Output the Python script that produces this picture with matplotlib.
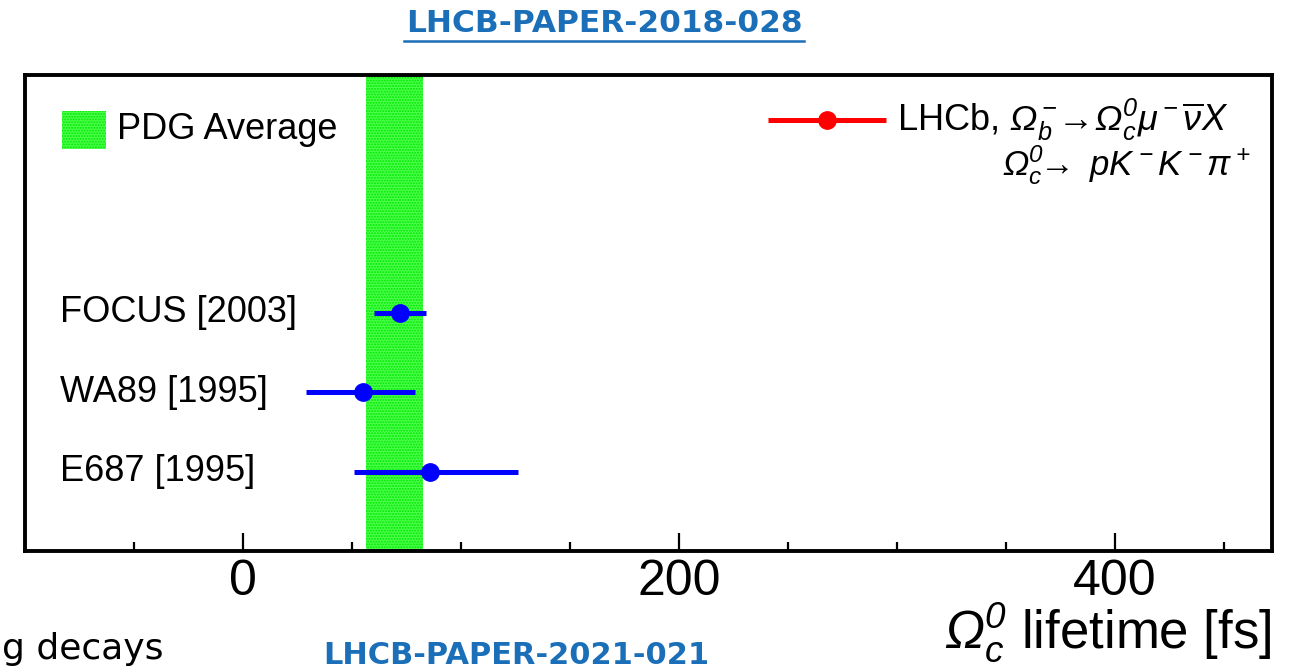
import matplotlib

matplotlib.use("Agg")
import matplotlib.pyplot as plt
from matplotlib.lines import Line2D
from matplotlib.patches import Rectangle

plt.rcParams["font.family"] = ["Liberation Sans", "DejaVu Sans"]
# ROOT-style italic symbols: every math glyph (Greek capitals included) in italic
plt.rcParams["mathtext.fontset"] = "custom"
plt.rcParams["mathtext.rm"] = "Liberation Sans:italic"
plt.rcParams["mathtext.it"] = "Liberation Sans:italic"
plt.rcParams["mathtext.sf"] = "Liberation Sans:italic"
plt.rcParams["hatch.linewidth"] = 1.0

# Omega_c0 lifetime measurements [fs]
experiments = ["FOCUS [2003]", "WA89 [1995]", "E687 [1995]"]
tau = [72.0, 55.0, 86.0]
err_lo = [12.0, 26.0, 35.0]
err_hi = [12.0, 24.0, 40.0]
ypos = [3, 2, 1]

# PDG average band
pdg_lo, pdg_hi = 56.5, 82.5

BLUE = "#0000ff"
RED = "#ff0000"
GREEN = "#00e600"
BAND = "#4dff4d"
LINK = "#1a6fb8"

fig = plt.figure(figsize=(12.97, 6.69), dpi=100)
ax = fig.add_axes([25 / 1297, 1 - 551 / 669, 1247 / 1297, 476 / 669])

ax.axvspan(pdg_lo, pdg_hi, facecolor=BAND, edgecolor=GREEN,
           hatch="......", linewidth=0, zorder=1)

ax.errorbar(tau, ypos, xerr=[err_lo, err_hi], fmt="o", color=BLUE,
            ms=12.5, elinewidth=3.6, capsize=0, zorder=3)

for name, y in zip(experiments, ypos):
    ax.text(-84, y, name, fontsize=26, va="center", ha="left")

# legend: PDG box
ax.add_patch(Rectangle((-83, 5.07), 20, 0.48, facecolor=BAND,
                       edgecolor=GREEN, hatch="......", linewidth=0, zorder=2))
ax.text(-58, 5.31, "PDG Average", fontsize=26, va="center", ha="left")

# legend: LHCb entry
ax.plot([241, 295], [5.43, 5.43], color=RED, lw=3.6, solid_capstyle="butt")
ax.plot([268], [5.43], "o", color=RED, ms=12.5)
ax.text(300, 5.43,
        r"LHCb, $Ω_b^-\!\!\rightarrow\!Ω_c^0μ^-\overline{ν}X$",
        fontsize=26, va="center", ha="left")
ax.text(462, 4.86,
        r"$Ω_c^0\!\!\rightarrow\ pK^-K^-π^+$",
        fontsize=25, va="center", ha="right")

ax.set_xlim(-100, 472)
ax.set_ylim(0, 6)

ax.set_yticks([])
ax.set_xticks([0, 200, 400])
ax.set_xticks(range(-50, 471, 50), minor=True)
ax.tick_params(axis="x", which="major", direction="in", length=13, width=1.6,
               labelsize=36, pad=6, top=False)
ax.tick_params(axis="x", which="minor", direction="in", length=6.5, width=1.6,
               top=False)
for s in ax.spines.values():
    s.set_linewidth(2.8)

ax.text(1.0, -0.105, r"$Ω_c^0$ lifetime [fs]", fontsize=38,
        transform=ax.transAxes, ha="right", va="top")

# slide captions around the plot
fig.text(604 / 1297, 1 - 23 / 669, "LHCB-PAPER-2018-028", color=LINK,
         fontsize=22.5, fontweight="bold", family="DejaVu Sans",
         ha="center", va="center")
fig.add_artist(Line2D([404 / 1297, 804 / 1297], [1 - 41 / 669, 1 - 41 / 669],
                      color=LINK, lw=1.8))
fig.text(516 / 1297, 1 - 656 / 669, "LHCB-PAPER-2021-021", color=LINK,
         fontsize=22, fontweight="bold", family="DejaVu Sans",
         ha="center", va="center")
fig.text(2 / 1297, 3 / 669, "g decays", fontsize=26, family="DejaVu Sans",
         ha="left", va="bottom")

fig.savefig("out.png", dpi=100)
